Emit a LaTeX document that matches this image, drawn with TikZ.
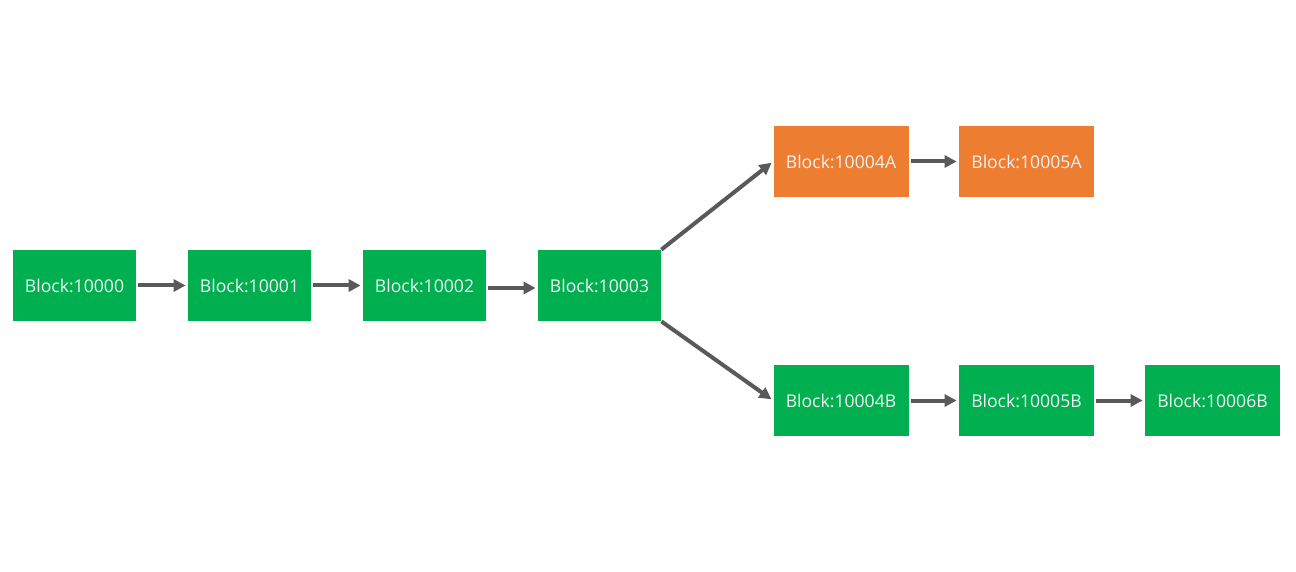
\documentclass[tikz,border=0pt]{standalone}
\usepackage{fontspec}
\setmainfont{Open Sans}
\usetikzlibrary{arrows.meta}
\definecolor{blockgreen}{HTML}{00B050}
\definecolor{blockorange}{HTML}{ED7D31}
\definecolor{linkgray}{HTML}{595959}
\tikzset{
  blk/.style={fill=blockgreen, text=white!95!black, inner sep=0pt,
    minimum width=61.5pt, minimum height=35.5pt, font=\fontsize{8.8pt}{10pt}\selectfont},
  wideblk/.style={blk, minimum width=67.5pt},
  forkblk/.style={wideblk, fill=blockorange},
  link/.style={draw=linkgray, line width=2pt, -{Triangle[length=6pt,width=6pt]}}
}
\begin{document}
\begin{tikzpicture}[x=0.5pt, y=-0.5pt]
          \useasboundingbox (0,0) rectangle (1296,572);

          \node[blk] (b0) at (74.5, 285.5) {Block:10000};
          \node[blk] (b1) at (249.5, 285.5) {Block:10001};
          \node[blk] (b2) at (424.5, 285.5) {Block:10002};
          \node[blk] (b3) at (599.5, 285.5) {Block:10003};

          \node[forkblk] (a4) at (841, 161.5) {Block:10004A};
          \node[forkblk] (a5) at (1026.5, 161.5) {Block:10005A};

          \node[wideblk] (c4) at (841, 400.5) {Block:10004B};
          \node[wideblk] (c5) at (1026.5, 400.5) {Block:10005B};
          \node[wideblk] (c6) at (1212.5, 400.5) {Block:10006B};

          \draw[link, shorten <=1pt, shorten >=1pt] (b0.east) -- (b1.west);
          \draw[link, shorten <=1pt, shorten >=1pt] (b1.east) -- (b2.west);
          \draw[link, shorten <=1pt, shorten >=1pt] ([yshift=-1.25pt]b2.east) -- ([yshift=-1.25pt]b3.west);

          \draw[link, shorten >=1pt] (b3.north east) -- (a4.west);
          \draw[link, shorten >=1pt] (b3.south east) -- (c4.west);

          \draw[link, shorten <=1pt, shorten >=1pt] (a4.east) -- (a5.west);
          \draw[link, shorten <=1pt, shorten >=1pt] (c4.east) -- (c5.west);
          \draw[link, shorten <=1pt, shorten >=1pt] (c5.east) -- (c6.west);

        \end{tikzpicture}
\end{document}
